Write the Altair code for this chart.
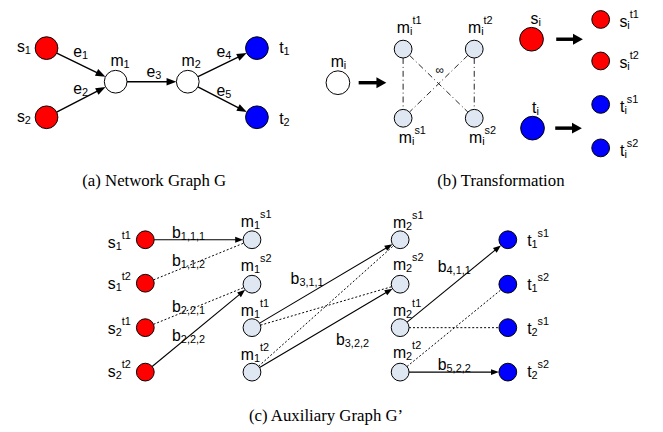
import math
import altair as alt
import pandas as pd

# ---------------- nodes ----------------
node_names = ["a_s1", "a_s2", "a_m1", "a_m2", "a_t1", "a_t2",
              "b_m", "b_mt1", "b_mt2", "b_ms1", "b_ms2",
              "b_s", "b_st1", "b_st2", "b_t", "b_ts1", "b_ts2",
              "c_s1t1", "c_s1t2", "c_s2t1", "c_s2t2",
              "c_m1s1", "c_m1s2", "c_m1t1", "c_m1t2",
              "c_m2s1", "c_m2s2", "c_m2t1", "c_m2t2",
              "c_t1s1", "c_t1s2", "c_t2s1", "c_t2s2"]
node_x = [47, 47, 117, 190, 260, 260,
          342, 408, 480, 408, 480,
          538, 608, 608, 539, 608, 608,
          147, 147, 147, 147,
          255, 255, 255, 255,
          405, 405, 405, 405,
          514, 514, 514, 514]
node_y = [46, 116, 80, 80, 46, 116,
          81, 47, 47, 117, 117,
          37, 17, 59, 127, 103, 147,
          240, 284, 329, 374,
          240, 285, 329, 374,
          240, 285, 329, 374,
          240, 285, 329, 374]
node_r = [11.5, 11.5, 11.5, 11.5, 11.5, 11.5,
          12, 9, 9, 9, 9,
          12, 9, 9, 12, 9, 9] + [9] * 16
node_fill = ["#FF0000", "#FF0000", "#FFFFFF", "#FFFFFF", "#0000FF", "#0000FF",
             "#FFFFFF", "#DFE7F2", "#DFE7F2", "#DFE7F2", "#DFE7F2",
             "#FF0000", "#FF0000", "#FF0000", "#0000FF", "#0000FF", "#0000FF",
             "#FF0000", "#FF0000", "#FF0000", "#FF0000",
             "#DFE7F2", "#DFE7F2", "#DFE7F2", "#DFE7F2",
             "#DFE7F2", "#DFE7F2", "#DFE7F2", "#DFE7F2",
             "#0000FF", "#0000FF", "#0000FF", "#0000FF"]

# ---------------- edges ----------------
edge_src = ["a_s1", "a_s2", "a_m1", "a_m2", "a_m2",
            "b_mt1", "b_mt2", "b_mt1", "b_mt2",
            "c_s1t1", "c_s1t2", "c_s2t1", "c_s2t2",
            "c_m1t1", "c_m1t1", "c_m1t2", "c_m1t2",
            "c_m2t1", "c_m2t2", "c_m2t1", "c_m2t2"]
edge_dst = ["a_m1", "a_m1", "a_m2", "a_t1", "a_t2",
            "b_ms1", "b_ms2", "b_ms2", "b_ms1",
            "c_m1s1", "c_m1s1", "c_m1s2", "c_m1s2",
            "c_m2s1", "c_m2s2", "c_m2s1", "c_m2s2",
            "c_t1s1", "c_t1s2", "c_t2s1", "c_t2s2"]
edge_style = ["solidA", "solidA", "solidA", "solidA", "solidA",
              "dashdot", "dashdot", "dashdot", "dashdot",
              "solid", "dotted", "dotted", "solid",
              "solid", "dotted", "dotted", "solid",
              "solid", "dotted", "dotted", "solid"]
edge_arrow = [True, True, True, True, True,
              False, False, False, False,
              True, False, False, True,
              True, False, False, True,
              True, False, False, True]

# thick transformation arrows in panel (b)
thick_x1 = [363, 563, 562]
thick_x2 = [391, 590, 589]
thick_y = [81, 37, 127]

# ---------------- labels ----------------
label_base = ["s", "s", "t", "t", "e", "e", "m", "e", "m", "e", "e",
              "m", "m", "m", "m", "m", "s", "s", "s", "t", "t", "t",
              "s", "s", "s", "s", "m", "m", "m", "m", "m", "m", "m", "m",
              "t", "t", "t", "t", "b", "b", "b", "b", "b", "b", "b", "b"]
label_sub = ["1", "2", "1", "2", "1", "2", "1", "3", "2", "4", "5",
             "i", "i", "i", "i", "i", "i", "i", "i", "i", "i", "i",
             "1", "1", "2", "2", "1", "1", "1", "1", "2", "2", "2", "2",
             "1", "1", "2", "2", "1,1,1", "1,1,2", "2,2,1", "2,2,2",
             "3,1,1", "3,2,2", "4,1,1", "5,2,2"]
label_sup = ["", "", "", "", "", "", "", "", "", "", "",
             "", "t1", "t2", "s1", "s2", "", "t1", "t2", "", "s1", "s2",
             "t1", "t2", "t1", "t2", "s1", "s2", "t1", "t2", "s1", "s2", "t1", "t2",
             "s1", "s2", "s1", "s2", "", "", "", "", "", "", "", ""]
label_x = [25, 25, 287, 287, 83, 83, 125, 157, 197, 228, 228,
           348, 415, 487, 417, 488, 545, 635, 635, 543, 632, 632,
           117, 117, 117, 117, 257, 257, 257, 257, 411, 411, 411, 411,
           538, 538, 538, 538, 183, 183, 183, 183, 303, 349, 452, 452]
label_y = [45, 116, 46, 118, 50, 87, 59, 70, 59, 50, 89,
           60, 26, 26, 137, 137, 17, 20, 61, 107, 106, 150,
           243, 285, 330, 374, 222, 267, 312, 357, 223, 266, 312, 355,
           241, 286, 330, 374, 233, 262, 308, 338, 280, 342, 268, 367]

inf_text = ["∞"]
inf_x = [445]
inf_y = [68]

caption_text = ["(a) Network Graph G", "(b) Transformation", "(c) Auxiliary Graph G\u2019"]
caption_x = [156, 507, 330]
caption_y = [181, 181, 418]

# ---------------- derived tables ----------------
pos = {n: (x, y, r) for n, x, y, r in zip(node_names, node_x, node_y, node_r)}
nodes = pd.DataFrame({"x": node_x, "y": node_y, "fill": node_fill,
                      "size": [(2 * r) ** 2 for r in node_r]})

seg_rows, arrow_rows = [], []
for s, d, st, ar in zip(edge_src, edge_dst, edge_style, edge_arrow):
    sx, sy, sr = pos[s]
    tx, ty, tr = pos[d]
    L = math.hypot(tx - sx, ty - sy)
    ux, uy = (tx - sx) / L, (ty - sy) / L
    x1, y1 = sx + sr * ux, sy + sr * uy
    tipx, tipy = tx - tr * ux, ty - tr * uy
    head = 10 if st == "solidA" else 8
    if ar:
        ex, ey = tipx - 0.5 * head * ux, tipy - 0.5 * head * uy
        arrow_rows.append({"x": tipx, "y": tipy,
                           "ang": math.degrees(math.atan2(uy, ux)) % 360,
                           "size": float(head * head)})
    else:
        ex, ey = tipx, tipy
    seg_rows.append({"x": x1, "y": y1, "x2": ex, "y2": ey, "style": st})
segs = pd.DataFrame(seg_rows)
arrows = pd.DataFrame(arrow_rows)

thick = pd.DataFrame({"x": thick_x1, "y": thick_y,
                      "x2": [x - 4 for x in thick_x2], "y2": thick_y})
thick_heads = pd.DataFrame({"x": thick_x2, "y": thick_y, "ang": [0, 0, 0]})

cw = {"1": 0.556, "2": 0.556, "3": 0.556, "4": 0.556, "5": 0.556, "i": 0.222, ",": 0.278}
labels = pd.DataFrame({"x": label_x, "y": label_y, "base": label_base,
                       "sub": label_sub, "sup": label_sup})
labels["ysub"] = labels["y"] + 4
labels["ysup"] = labels["y"] - 7
labels["xsup"] = [x + sum(cw[c] for c in s) * 11 for x, s in zip(label_x, label_sub)]

infdf = pd.DataFrame({"x": inf_x, "y": inf_y, "t": inf_text})
caps = pd.DataFrame({"x": caption_x, "y": caption_y, "t": caption_text})

# ---------------- chart ----------------
xs = alt.Scale(domain=[8, 663], nice=False, zero=False)
ys = alt.Scale(domain=[8, 432], nice=False, zero=False, reverse=True)


def XY(xf="x", yf="y"):
    return dict(x=alt.X(xf, type="quantitative", scale=xs, axis=None),
                y=alt.Y(yf, type="quantitative", scale=ys, axis=None))


def seg_layer(df, **mk):
    return alt.Chart(df).mark_rule(**mk).encode(
        **XY(), x2=alt.X2("x2:Q"), y2=alt.Y2("y2:Q"))


layers = [
    seg_layer(segs[segs["style"] == "solidA"], color="black", strokeWidth=1.4),
    seg_layer(segs[segs["style"] == "solid"], color="black", strokeWidth=1.1),
    seg_layer(segs[segs["style"] == "dotted"], color="black", strokeWidth=1, strokeDash=[2, 2]),
    seg_layer(segs[segs["style"] == "dashdot"], color="#222222", strokeWidth=1, strokeDash=[6, 3, 1, 3]),
    seg_layer(thick, color="black", strokeWidth=3.5),
    alt.Chart(arrows).mark_point(shape="M0,0L-2,-0.75L-2,0.75Z", filled=True, color="black",
                                 opacity=1, strokeWidth=0).encode(
        **XY(), angle=alt.Angle("ang:Q", scale=None), size=alt.Size("size:Q", scale=None)),
    alt.Chart(thick_heads).mark_point(shape="M0,0L-2,-1.1L-2,1.1Z", filled=True, color="black",
                                      opacity=1, strokeWidth=0, size=100).encode(
        **XY(), angle=alt.Angle("ang:Q", scale=None)),
    alt.Chart(nodes).mark_circle(opacity=1, stroke="black", strokeWidth=1).encode(
        **XY(), fill=alt.Fill("fill:N", scale=None), size=alt.Size("size:Q", scale=None)),
    alt.Chart(labels).mark_text(align="right", baseline="middle", font="Liberation Sans",
                                fontSize=16, color="black").encode(**XY(), text="base:N"),
    alt.Chart(labels).mark_text(align="left", baseline="middle", font="Liberation Sans",
                                fontSize=11, color="black").encode(**XY("x", "ysub"), text="sub:N"),
    alt.Chart(labels).mark_text(align="left", baseline="middle", font="Liberation Sans",
                                fontSize=11, color="black").encode(**XY("xsup", "ysup"), text="sup:N"),
    alt.Chart(infdf).mark_text(align="center", baseline="middle", font="Liberation Sans",
                               fontSize=12, color="black").encode(**XY(), text="t:N"),
    alt.Chart(caps).mark_text(align="center", baseline="middle",
                              font="Times New Roman, Liberation Serif, serif",
                              fontSize=17, color="black").encode(**XY(), text="t:N"),
]

chart = alt.layer(*layers).properties(
    width=655, height=424, padding=0,
    autosize=alt.AutoSizeParams(type="none"),
    background="white",
).configure_view(stroke=None)

chart.save("out.html", embed_options={"renderer": "svg", "actions": False})
